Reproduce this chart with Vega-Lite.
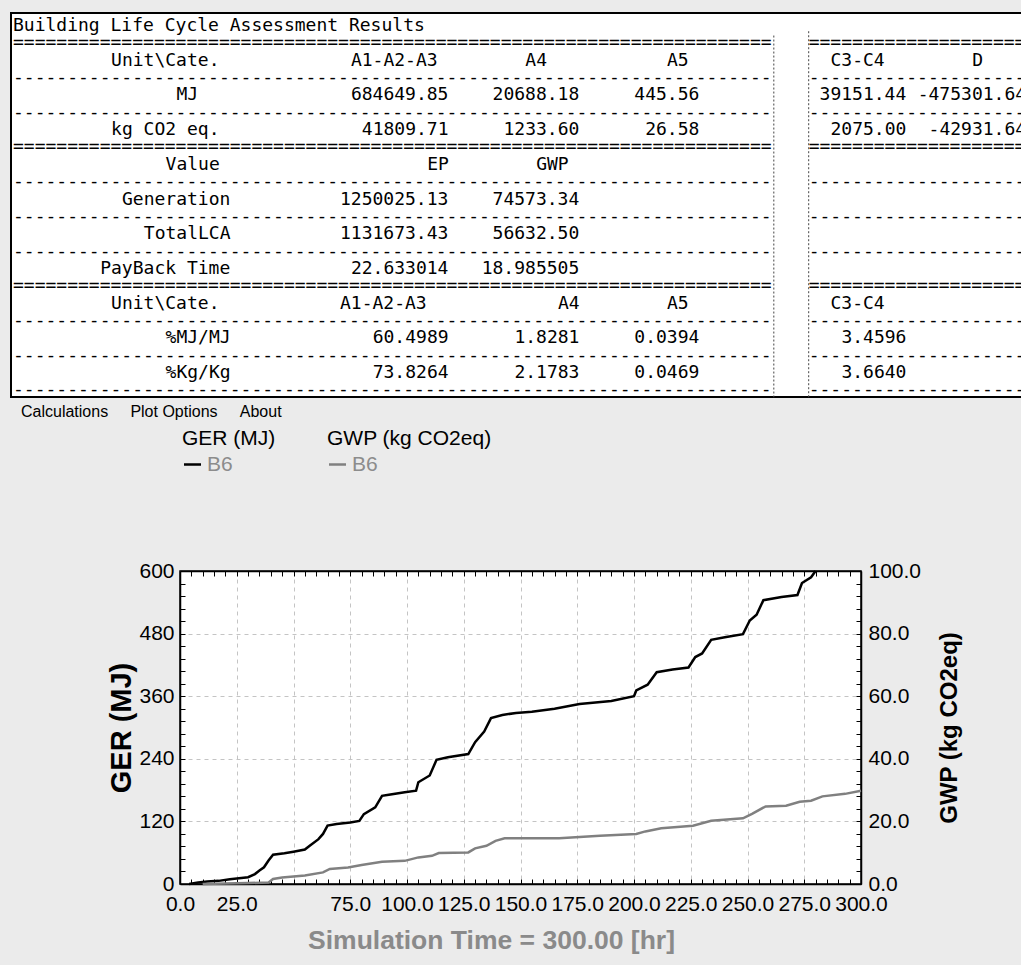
{
  "$schema": "https://vega.github.io/schema/vega-lite/v6.json",
  "background": "#ebebeb",
  "padding": {"left": 10, "top": 12, "right": 0, "bottom": 10},
  "spacing": 4,
  "config": {
    "view": {"stroke": null},
    "font": "Liberation Sans",
    "axis": {
      "labelFont": "Liberation Sans", "labelFontSize": 21, "labelColor": "black",
      "tickColor": "black", "tickSize": -5, "tickWidth": 1,
      "domainColor": "black", "domainWidth": 1.5,
      "gridColor": "#c4c4c4", "gridDash": [4, 4], "gridWidth": 1,
      "titleFont": "Liberation Sans", "titleFontWeight": "bold", "titleColor": "black",
      "labelFlush": false, "labelOverlap": false
    }
  },
  "datasets": {
    "cells": [
      {"line": 0, "col": 0, "text": "Building Life Cycle Assessment Results"},
      {"line": 1, "col": 0, "text": "======================================================================"},
      {"line": 1, "col": 73, "text": "===================="},
      {"line": 2, "col": 9, "text": "Unit\\Cate."},
      {"line": 2, "col": 31, "text": "A1-A2-A3"},
      {"line": 2, "col": 47, "text": "A4"},
      {"line": 2, "col": 60, "text": "A5"},
      {"line": 2, "col": 75, "text": "C3-C4"},
      {"line": 2, "col": 88, "text": "D"},
      {"line": 3, "col": 0, "text": "----------------------------------------------------------------------"},
      {"line": 3, "col": 73, "text": "--------------------"},
      {"line": 4, "col": 15, "text": "MJ"},
      {"line": 4, "col": 31, "text": "684649.85"},
      {"line": 4, "col": 44, "text": "20688.18"},
      {"line": 4, "col": 57, "text": "445.56"},
      {"line": 4, "col": 74, "text": "39151.44"},
      {"line": 4, "col": 83, "text": "-475301.64"},
      {"line": 5, "col": 0, "text": "----------------------------------------------------------------------"},
      {"line": 5, "col": 73, "text": "--------------------"},
      {"line": 6, "col": 9, "text": "kg CO2 eq."},
      {"line": 6, "col": 32, "text": "41809.71"},
      {"line": 6, "col": 45, "text": "1233.60"},
      {"line": 6, "col": 58, "text": "26.58"},
      {"line": 6, "col": 75, "text": "2075.00"},
      {"line": 6, "col": 84, "text": "-42931.64"},
      {"line": 7, "col": 0, "text": "======================================================================"},
      {"line": 7, "col": 73, "text": "===================="},
      {"line": 8, "col": 14, "text": "Value"},
      {"line": 8, "col": 38, "text": "EP"},
      {"line": 8, "col": 48, "text": "GWP"},
      {"line": 9, "col": 0, "text": "----------------------------------------------------------------------"},
      {"line": 9, "col": 73, "text": "--------------------"},
      {"line": 10, "col": 10, "text": "Generation"},
      {"line": 10, "col": 30, "text": "1250025.13"},
      {"line": 10, "col": 44, "text": "74573.34"},
      {"line": 11, "col": 0, "text": "----------------------------------------------------------------------"},
      {"line": 11, "col": 73, "text": "--------------------"},
      {"line": 12, "col": 12, "text": "TotalLCA"},
      {"line": 12, "col": 30, "text": "1131673.43"},
      {"line": 12, "col": 44, "text": "56632.50"},
      {"line": 13, "col": 0, "text": "----------------------------------------------------------------------"},
      {"line": 13, "col": 73, "text": "--------------------"},
      {"line": 14, "col": 8, "text": "PayBack Time"},
      {"line": 14, "col": 31, "text": "22.633014"},
      {"line": 14, "col": 43, "text": "18.985505"},
      {"line": 15, "col": 0, "text": "======================================================================"},
      {"line": 15, "col": 73, "text": "===================="},
      {"line": 16, "col": 9, "text": "Unit\\Cate."},
      {"line": 16, "col": 30, "text": "A1-A2-A3"},
      {"line": 16, "col": 50, "text": "A4"},
      {"line": 16, "col": 60, "text": "A5"},
      {"line": 16, "col": 75, "text": "C3-C4"},
      {"line": 17, "col": 0, "text": "----------------------------------------------------------------------"},
      {"line": 17, "col": 73, "text": "--------------------"},
      {"line": 18, "col": 14, "text": "%MJ/MJ"},
      {"line": 18, "col": 33, "text": "60.4989"},
      {"line": 18, "col": 46, "text": "1.8281"},
      {"line": 18, "col": 57, "text": "0.0394"},
      {"line": 18, "col": 76, "text": "3.4596"},
      {"line": 19, "col": 0, "text": "----------------------------------------------------------------------"},
      {"line": 19, "col": 73, "text": "--------------------"},
      {"line": 20, "col": 14, "text": "%Kg/Kg"},
      {"line": 20, "col": 33, "text": "73.8264"},
      {"line": 20, "col": 46, "text": "2.1783"},
      {"line": 20, "col": 57, "text": "0.0469"},
      {"line": 20, "col": 76, "text": "3.6640"},
      {"line": 21, "col": 0, "text": "----------------------------------------------------------------------"},
      {"line": 21, "col": 73, "text": "--------------------"}
    ],
    "dividers": [
      {"col": 69.8, "from": 0.55, "to": 21.4},
      {"col": 73.0, "from": 0.3, "to": 21.4}
    ],
    "ger": [
      {"t": 4, "ger": 0, "series": "B6"}, {"t": 8, "ger": 3, "series": "B6"}, {"t": 12, "ger": 5, "series": "B6"},
      {"t": 17, "ger": 6, "series": "B6"}, {"t": 22, "ger": 9, "series": "B6"}, {"t": 26, "ger": 11, "series": "B6"},
      {"t": 30, "ger": 13, "series": "B6"}, {"t": 33, "ger": 19, "series": "B6"}, {"t": 35, "ger": 26, "series": "B6"},
      {"t": 37, "ger": 32, "series": "B6"}, {"t": 39, "ger": 45, "series": "B6"}, {"t": 41, "ger": 56, "series": "B6"},
      {"t": 46, "ger": 59, "series": "B6"}, {"t": 50, "ger": 62, "series": "B6"}, {"t": 55, "ger": 66, "series": "B6"},
      {"t": 57, "ger": 73, "series": "B6"}, {"t": 61, "ger": 86, "series": "B6"}, {"t": 63, "ger": 96, "series": "B6"},
      {"t": 65, "ger": 112, "series": "B6"}, {"t": 69, "ger": 115, "series": "B6"}, {"t": 75, "ger": 118, "series": "B6"},
      {"t": 79, "ger": 121, "series": "B6"}, {"t": 81, "ger": 134, "series": "B6"}, {"t": 86, "ger": 147, "series": "B6"},
      {"t": 89, "ger": 169, "series": "B6"}, {"t": 92, "ger": 171, "series": "B6"}, {"t": 99, "ger": 176, "series": "B6"},
      {"t": 104, "ger": 179, "series": "B6"}, {"t": 105, "ger": 195, "series": "B6"}, {"t": 110, "ger": 208, "series": "B6"},
      {"t": 113, "ger": 238, "series": "B6"}, {"t": 118, "ger": 243, "series": "B6"}, {"t": 127, "ger": 249, "series": "B6"},
      {"t": 130, "ger": 272, "series": "B6"}, {"t": 134, "ger": 292, "series": "B6"}, {"t": 137, "ger": 318, "series": "B6"},
      {"t": 142, "ger": 324, "series": "B6"}, {"t": 148, "ger": 328, "series": "B6"}, {"t": 155, "ger": 330, "series": "B6"},
      {"t": 165, "ger": 336, "series": "B6"}, {"t": 176, "ger": 345, "series": "B6"}, {"t": 190, "ger": 351, "series": "B6"},
      {"t": 200, "ger": 360, "series": "B6"}, {"t": 201, "ger": 371, "series": "B6"}, {"t": 206, "ger": 382, "series": "B6"},
      {"t": 210, "ger": 406, "series": "B6"}, {"t": 217, "ger": 411, "series": "B6"}, {"t": 224, "ger": 415, "series": "B6"},
      {"t": 227, "ger": 435, "series": "B6"}, {"t": 230, "ger": 442, "series": "B6"}, {"t": 234, "ger": 468, "series": "B6"},
      {"t": 240, "ger": 473, "series": "B6"}, {"t": 248, "ger": 479, "series": "B6"}, {"t": 251, "ger": 505, "series": "B6"},
      {"t": 254, "ger": 516, "series": "B6"}, {"t": 257, "ger": 544, "series": "B6"}, {"t": 265, "ger": 550, "series": "B6"},
      {"t": 272, "ger": 554, "series": "B6"}, {"t": 274, "ger": 577, "series": "B6"}, {"t": 278, "ger": 588, "series": "B6"},
      {"t": 280, "ger": 600, "series": "B6"}
    ],
    "gwp": [
      {"t": 10, "gwp": 0, "series": "B6"}, {"t": 30, "gwp": 0.3, "series": "B6"}, {"t": 39, "gwp": 0.5, "series": "B6"},
      {"t": 41, "gwp": 1.6, "series": "B6"}, {"t": 45, "gwp": 2.1, "series": "B6"}, {"t": 55, "gwp": 2.7, "series": "B6"},
      {"t": 63, "gwp": 3.7, "series": "B6"}, {"t": 66, "gwp": 4.8, "series": "B6"}, {"t": 74, "gwp": 5.3, "series": "B6"},
      {"t": 80, "gwp": 6.1, "series": "B6"}, {"t": 89, "gwp": 7.1, "series": "B6"}, {"t": 99, "gwp": 7.4, "series": "B6"},
      {"t": 105, "gwp": 8.5, "series": "B6"}, {"t": 111, "gwp": 9.0, "series": "B6"}, {"t": 114, "gwp": 9.9, "series": "B6"},
      {"t": 127, "gwp": 10.1, "series": "B6"}, {"t": 130, "gwp": 11.4, "series": "B6"}, {"t": 135, "gwp": 12.2, "series": "B6"},
      {"t": 139, "gwp": 13.8, "series": "B6"}, {"t": 143, "gwp": 14.6, "series": "B6"}, {"t": 167, "gwp": 14.6, "series": "B6"},
      {"t": 185, "gwp": 15.4, "series": "B6"}, {"t": 201, "gwp": 16.0, "series": "B6"}, {"t": 205, "gwp": 16.8, "series": "B6"},
      {"t": 212, "gwp": 17.8, "series": "B6"}, {"t": 226, "gwp": 18.6, "series": "B6"}, {"t": 234, "gwp": 20.2, "series": "B6"},
      {"t": 248, "gwp": 21.0, "series": "B6"}, {"t": 252, "gwp": 22.4, "series": "B6"}, {"t": 258, "gwp": 24.8, "series": "B6"},
      {"t": 267, "gwp": 25.0, "series": "B6"}, {"t": 273, "gwp": 26.3, "series": "B6"}, {"t": 278, "gwp": 26.6, "series": "B6"},
      {"t": 283, "gwp": 28.0, "series": "B6"}, {"t": 293, "gwp": 28.8, "series": "B6"}, {"t": 300, "gwp": 29.8, "series": "B6"}
    ]
  },
  "vconcat": [
    {
      "width": 1011,
      "height": 384,
      "view": {"fill": "white", "stroke": "black", "strokeWidth": 2},
      "layer": [
        {
          "data": {"name": "cells"},
          "mark": {"type": "text", "align": "left", "baseline": "middle", "font": "DejaVu Sans Mono", "fontSize": 18, "color": "black", "clip": true},
          "encoding": {
            "x": {"field": "col", "type": "quantitative", "scale": {"domain": [-0.1835, 92.569], "nice": false, "zero": false}, "axis": null},
            "y": {"field": "line", "type": "quantitative", "scale": {"domain": [-0.7493, 21.383], "reverse": true, "nice": false, "zero": false}, "axis": null},
            "text": {"field": "text"}
          }
        },
        {
          "data": {"name": "dividers"},
          "mark": {"type": "rule", "strokeDash": [2, 2], "color": "#444444", "strokeWidth": 1},
          "encoding": {
            "x": {"field": "col", "type": "quantitative", "axis": null},
            "y": {"field": "from", "type": "quantitative", "axis": null},
            "y2": {"field": "to"}
          }
        }
      ]
    },
    {
      "spacing": 7,
      "hconcat": [
        {
          "width": 2,
          "height": 2,
          "data": {"values": [{"t": ""}]},
          "mark": {"type": "text"},
          "encoding": {"text": {"field": "t"}}
        },
        {
          "width": 681,
          "height": 313,
          "view": {"fill": "white", "stroke": "black", "strokeWidth": 1.5},
          "title": {
            "text": "Calculations\u00a0\u00a0\u00a0\u00a0\u00a0Plot Options\u00a0\u00a0\u00a0\u00a0\u00a0About",
            "anchor": "start", "frame": "group", "dx": -159, "offset": 8,
            "font": "Liberation Sans", "fontSize": 16, "fontWeight": "normal", "color": "black"
          },
          "layer": [
            {
              "data": {"name": "ger"},
              "mark": {"type": "line", "strokeWidth": 2.5},
              "encoding": {
                "x": {
                  "field": "t", "type": "quantitative",
                  "scale": {"domain": [0, 300], "nice": false, "zero": false},
                  "axis": {
                    "orient": "bottom",
                    "values": [0,5,10,15,20,25,30,35,40,45,50,55,60,65,70,75,80,85,90,95,100,105,110,115,120,125,130,135,140,145,150,155,160,165,170,175,180,185,190,195,200,205,210,215,220,225,230,235,240,245,250,255,260,265,270,275,280,285,290,295,300],
                    "labelExpr": "datum.value % 25 === 0 && datum.value !== 50 ? format(datum.value, '.1f') : ''",
                    "labelPadding": 14,
                    "grid": true,
                    "gridOpacity": {"condition": {"test": "datum.value % 25 === 0", "value": 1}, "value": 0},
                    "title": "Simulation Time = 300.00 [hr]",
                    "titleColor": "#8a8a8a", "titleFontSize": 26.5, "titleX": 311, "titlePadding": 13
                  }
                },
                "y": {
                  "field": "ger", "type": "quantitative",
                  "scale": {"domain": [0, 600], "nice": false, "zero": false},
                  "axis": {
                    "orient": "left",
                    "values": [0,24,48,72,96,120,144,168,192,216,240,264,288,312,336,360,384,408,432,456,480,504,528,552,576,600],
                    "labelExpr": "datum.value % 120 === 0 ? format(datum.value, 'd') : ''",
                    "labelPadding": 11,
                    "grid": true,
                    "gridOpacity": {"condition": {"test": "datum.value % 120 === 0", "value": 1}, "value": 0},
                    "title": "GER (MJ)", "titleFontSize": 29, "titlePadding": 2
                  }
                },
                "color": {
                  "field": "series", "type": "nominal",
                  "scale": {"range": ["black"]},
                  "legend": {
                    "title": "GER (MJ)", "orient": "none", "legendX": 2, "legendY": -143, "padding": 0,
                    "titleFont": "Liberation Sans", "titleFontSize": 21, "titleFontWeight": "normal", "titleColor": "black", "titlePadding": 5,
                    "labelFont": "Liberation Sans", "labelFontSize": 21, "labelColor": "#8c8c8c",
                    "symbolType": "stroke", "symbolStrokeWidth": 2.5, "symbolSize": 289
                  }
                }
              }
            },
            {
              "data": {"name": "gwp"},
              "mark": {"type": "line", "strokeWidth": 2.5},
              "encoding": {
                "x": {
                  "field": "t", "type": "quantitative",
                  "scale": {"domain": [0, 300], "nice": false, "zero": false},
                  "axis": {
                    "orient": "top",
                    "values": [0,5,10,15,20,25,30,35,40,45,50,55,60,65,70,75,80,85,90,95,100,105,110,115,120,125,130,135,140,145,150,155,160,165,170,175,180,185,190,195,200,205,210,215,220,225,230,235,240,245,250,255,260,265,270,275,280,285,290,295,300],
                    "labels": false, "grid": false, "title": null
                  }
                },
                "y": {
                  "field": "gwp", "type": "quantitative",
                  "scale": {"domain": [0, 100], "nice": false, "zero": false},
                  "axis": {
                    "orient": "right",
                    "values": [0,4,8,12,16,20,24,28,32,36,40,44,48,52,56,60,64,68,72,76,80,84,88,92,96,100],
                    "labelExpr": "datum.value % 20 === 0 ? format(datum.value, '.1f') : ''",
                    "labelPadding": 12,
                    "grid": false,
                    "title": "GWP (kg CO2eq)", "titleFontSize": 24, "titleAngle": 270, "titlePadding": 41
                  }
                },
                "color": {
                  "field": "series", "type": "nominal",
                  "scale": {"range": ["#808080"]},
                  "legend": {
                    "title": "GWP (kg CO2eq)", "orient": "none", "legendX": 147, "legendY": -143, "padding": 0,
                    "titleFont": "Liberation Sans", "titleFontSize": 21, "titleFontWeight": "normal", "titleColor": "black", "titlePadding": 5,
                    "labelFont": "Liberation Sans", "labelFontSize": 21, "labelColor": "#8c8c8c",
                    "symbolType": "stroke", "symbolStrokeWidth": 2.5, "symbolSize": 289
                  }
                }
              }
            }
          ],
          "resolve": {"scale": {"y": "independent", "color": "independent"}, "axis": {"x": "independent"}}
        }
      ]
    }
  ]
}
